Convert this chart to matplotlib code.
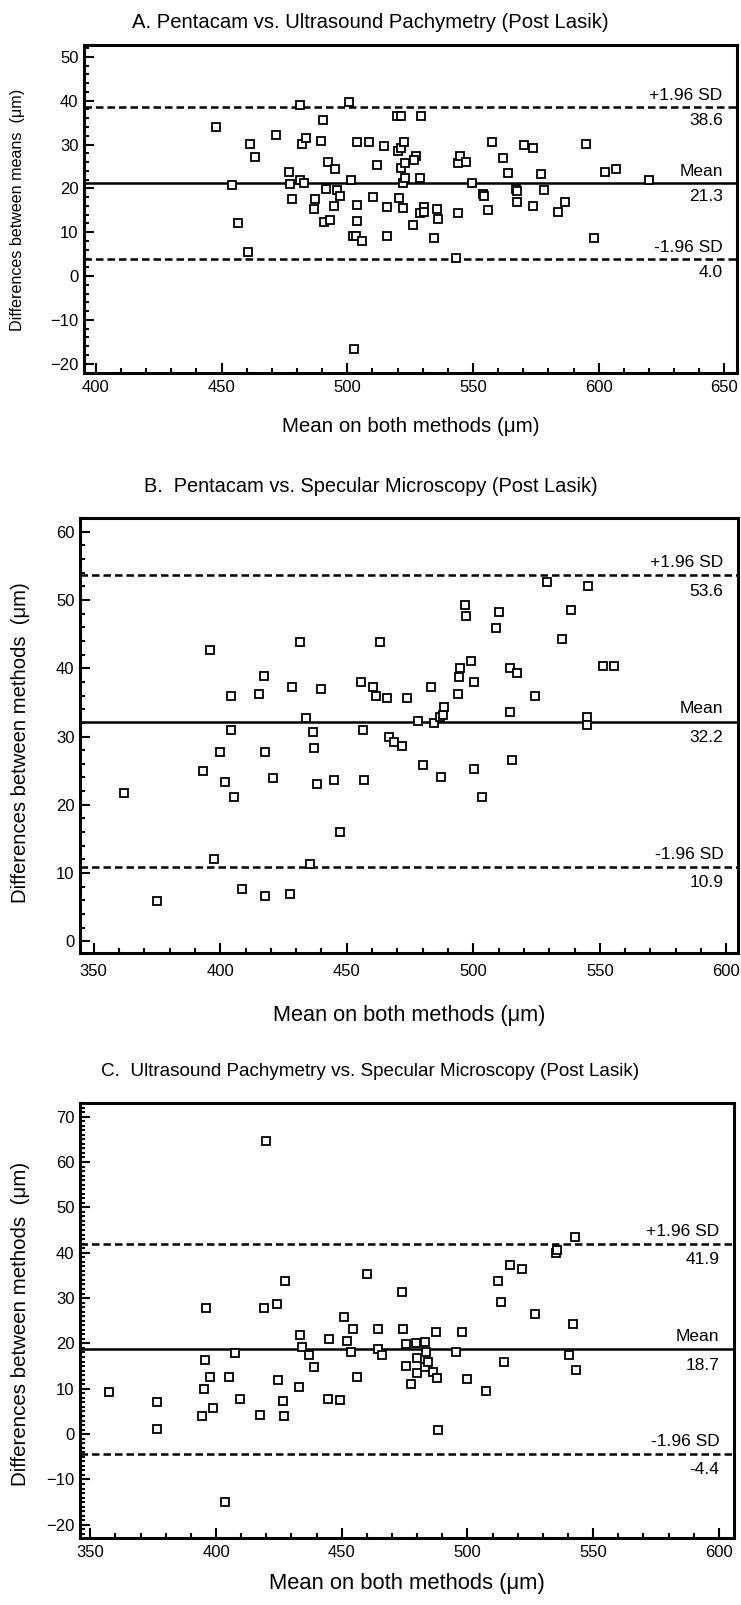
import matplotlib
matplotlib.use('Agg')
import matplotlib.pyplot as plt
from matplotlib.ticker import MultipleLocator

plt.rcParams['font.family'] = ['Liberation Sans', 'DejaVu Sans']

# ---- data ----
a_x = [447.7, 454.2, 456.5, 460.6, 461.4, 463.4, 471.7, 477.0, 477.2, 478.2,
       481.1, 481.9, 483.5, 481.4, 482.7, 487.1, 486.7, 489.7, 490.5, 490.9,
       493.3, 491.6, 492.4, 495.0, 494.9, 495.8, 497.2, 500.5, 501.3, 502.2,
       503.6, 505.7, 503.8, 504.0, 504.0, 508.7, 510.3, 511.9, 514.5, 515.7,
       515.7, 519.8, 521.5, 520.3, 521.2, 522.6, 521.5, 523.0, 522.0, 523.0,
       520.6, 522.2, 527.5, 526.7, 528.9, 529.5, 528.8, 530.5, 530.5, 526.1,
       535.5, 535.9, 534.5, 502.7, 544.0, 545.0, 547.3, 544.0, 543.3, 549.6,
       554.0, 554.2, 555.8, 557.7, 561.8, 563.9, 567.0, 567.7, 567.5, 570.3,
       574.0, 573.9, 577.0, 578.4, 584.0, 586.5, 594.8, 598.2, 602.7, 607.0,
       619.9]
a_y = [34.1, 20.7, 12.0, 5.6, 30.2, 27.1, 32.1, 23.7, 21.0, 17.6,
       39.0, 30.2, 31.5, 21.9, 21.2, 17.6, 15.3, 30.8, 35.6, 12.4,
       12.9, 19.8, 26.1, 24.4, 16.0, 19.7, 18.3, 39.6, 21.9, 9.2,
       9.2, 7.9, 30.6, 16.1, 12.6, 30.6, 18.1, 25.4, 29.7, 9.2,
       15.7, 36.5, 36.5, 28.5, 29.3, 30.5, 24.7, 25.8, 21.2, 22.3,
       17.7, 15.5, 27.4, 26.4, 22.3, 36.5, 14.3, 15.7, 14.7, 11.6,
       15.4, 13.0, 8.7, -16.7, 25.7, 27.5, 26.1, 14.5, 4.2, 21.2,
       18.7, 18.2, 15.0, 30.5, 26.9, 23.5, 19.8, 19.3, 16.8, 30.0,
       29.2, 16.0, 23.3, 19.7, 14.7, 16.8, 30.2, 8.6, 23.7, 24.4,
       21.8]
a_limits = [38.6, 21.3, 4.0]

b_x = [362.1, 375.2, 393.2, 395.9, 397.4, 400.0, 401.9, 404.4, 404.4, 405.4,
       408.8, 415.4, 417.3, 417.7, 417.7, 420.7, 427.4, 428.2, 431.5, 433.8,
       435.6, 436.8, 437.1, 438.4, 439.8, 445.0, 447.4, 455.5, 456.3, 456.7,
       460.4, 461.7, 463.0, 466.1, 466.8, 468.8, 471.7, 474.0, 478.0, 480.0,
       483.4, 484.4, 486.8, 488.0, 488.3, 487.1, 493.8, 494.2, 494.6, 496.6,
       497.2, 499.1, 500.4, 500.2, 503.6, 508.8, 510.0, 514.5, 517.1, 514.6,
       515.3, 524.2, 529.1, 535.1, 538.8, 545.5, 545.1, 545.1, 551.1, 555.8]
b_y = [21.7, 5.9, 25.0, 42.6, 12.0, 27.7, 23.3, 36.0, 31.0, 21.1,
       7.6, 36.3, 38.9, 27.7, 6.6, 23.9, 7.0, 37.3, 43.9, 32.7,
       11.4, 30.7, 28.3, 23.1, 36.9, 23.7, 16.0, 38.0, 31.0, 23.7,
       37.3, 36.0, 43.9, 35.6, 30.0, 29.2, 28.6, 35.6, 32.3, 25.9,
       37.3, 32.0, 32.9, 33.2, 34.3, 24.0, 36.3, 38.7, 40.0, 49.3,
       47.7, 41.1, 38.0, 25.3, 21.1, 45.9, 48.3, 40.0, 39.3, 33.6,
       26.6, 36.0, 52.7, 44.3, 48.6, 52.0, 32.8, 31.7, 40.3, 40.3]
b_limits = [53.6, 32.2, 10.9]

c_x = [357.5, 376.5, 376.5, 394.5, 395.4, 395.7, 396.0, 397.5, 398.8, 403.4,
       405.2, 407.4, 409.6, 417.6, 419.2, 419.9, 424.4, 424.5, 426.5, 427.1,
       427.4, 433.1, 433.5, 434.0, 436.8, 438.9, 444.5, 444.9, 449.4, 450.9,
       452.0, 453.5, 454.4, 455.9, 460.0, 464.5, 464.5, 466.0, 473.9, 474.3,
       475.4, 475.4, 477.4, 479.4, 479.8, 479.8, 483.1, 483.6, 483.3, 484.5,
       486.4, 487.3, 488.0, 488.2, 495.3, 497.8, 500.0, 507.5, 512.0, 513.3,
       514.7, 517.1, 521.6, 526.9, 535.2, 535.6, 540.4, 542.0, 542.7, 543.2]
c_y = [9.3, 7.1, 1.1, 3.9, 10.0, 16.3, 27.9, 12.5, 5.7, -15.0,
       12.6, 17.9, 7.7, 4.2, 27.9, 64.7, 28.7, 11.9, 7.4, 3.9,
       33.8, 10.3, 21.9, 19.1, 17.5, 14.9, 7.7, 21.0, 7.5, 25.9,
       20.6, 18.0, 23.2, 12.5, 35.4, 23.2, 18.7, 17.5, 31.4, 23.2,
       19.8, 15.1, 11.0, 20.1, 16.7, 13.4, 20.4, 18.1, 14.8, 15.8,
       13.7, 22.6, 12.3, 1.0, 18.1, 22.5, 12.1, 9.6, 33.8, 29.2,
       16.0, 37.3, 36.3, 26.4, 40.0, 40.6, 17.4, 24.2, 43.5, 14.1]
c_limits = [41.9, 18.7, -4.4]

W, H = 741, 1605
fig = plt.figure(figsize=(W / 100, H / 100), dpi=100)


def box(l, t, r, b):
    return [l / W, 1 - b / H, (r - l) / W, (b - t) / H]


def panel(rect, xs, ys, lims, xlim, ylim, ymin, title, title_y, title_fs,
          xlab_y, xlab_fs, xpad, ylab, ylab_x, ylab_y, ylab_fs):
    ax = fig.add_axes(box(*rect))
    ax.plot(xs, ys, linestyle='none', marker='s', ms=5.2, mfc='white',
            mec='black', mew=1.3, zorder=3)
    up, mean, lo = lims
    ax.axhline(up, color='black', lw=1.8, ls=(0, (3, 1.6)), zorder=2)
    ax.axhline(mean, color='black', lw=1.8, zorder=2)
    ax.axhline(lo, color='black', lw=1.8, ls=(0, (3, 1.6)), zorder=2)
    tr = ax.get_yaxis_transform()
    dy = (ylim[1] - ylim[0]) * 0.012
    for val, name in [(up, '+1.96 SD'), (mean, 'Mean'), (lo, '-1.96 SD')]:
        ax.text(0.978, val + dy, name, transform=tr, ha='right', va='bottom',
                fontsize=12.5)
        ax.text(0.978, val - dy * 1.6, '%.1f' % val, transform=tr, ha='right',
                va='top', fontsize=12.5)
    ax.set_xlim(*xlim)
    ax.set_ylim(*ylim)
    ax.xaxis.set_major_locator(MultipleLocator(50))
    ax.xaxis.set_minor_locator(MultipleLocator(10))
    ax.yaxis.set_major_locator(MultipleLocator(10))
    ax.yaxis.set_minor_locator(MultipleLocator(ymin))
    ax.tick_params(which='both', direction='in', top=False, right=False,
                   width=1.5, labelsize=12)
    ax.tick_params(which='major', length=7, pad=4)
    ax.tick_params(axis='x', which='major', pad=xpad)
    ax.tick_params(which='minor', length=3.5)
    for s in ax.spines.values():
        s.set_linewidth(2.2)
    cx = (rect[0] + rect[2]) / 2 / W
    fig.text(0.5, 1 - title_y / H, title, ha='center', va='center',
             fontsize=title_fs)
    fig.text(cx, 1 - xlab_y / H, 'Mean on both methods (\u03bcm)', ha='center',
             va='center', fontsize=xlab_fs)
    fig.text(ylab_x / W, 1 - ylab_y / H, ylab, rotation=90,
             ha='center', va='center', fontsize=ylab_fs)
    return ax


panel((84, 45, 737, 373), a_x, a_y, a_limits, (395.3, 655), (-22.1, 52.7), 2,
      'A. Pentacam vs. Ultrasound Pachymetry (Post Lasik)', 23, 14.6,
      427, 14.8, 5, 'Differences between means  (\u03bcm)', 18, 210, 11.6)

panel((80, 518, 738, 953), b_x, b_y, b_limits, (344.6, 604.6), (-1.7, 62.0), 2,
      'B.  Pentacam vs. Specular Microscopy (Post Lasik)', 487, 14.4,
      1015, 15.7, 8, 'Differences between methods  (\u03bcm)', 21, 743, 14.6)

panel((80, 1103, 734, 1538), c_x, c_y, c_limits, (345.9, 606), (-22.9, 73.0), 1,
      'C.  Ultrasound Pachymetry vs. Specular Microscopy (Post Lasik)', 1072, 13.6,
      1583, 15.8, 5, 'Differences between methods  (\u03bcm)', 21, 1324, 14.8)

fig.savefig('out.png', dpi=100)
